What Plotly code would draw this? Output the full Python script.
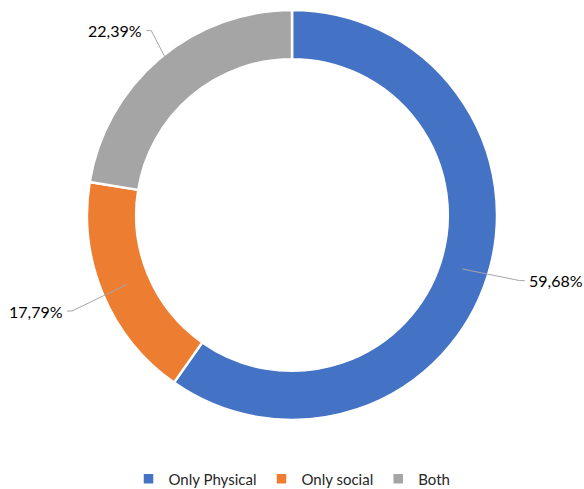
import math
import plotly.graph_objects as go

# Share of respondents by type of activity
categories = ["Only Physical", "Only social", "Both"]
shares = [59.68, 17.79, 22.39]
colors = ["#4472C4", "#ED7D31", "#A5A5A5"]

W, H = 584, 489
CX, CY = 292, 215          # ring centre in px
R_OUT = 203                # drawn outer radius
R_DOM = 205                # half-size of the pie domain (plotly trims a little)
HOLE = 0.76
R_MID = R_OUT * (1 + HOLE) / 2

# per-slice label placement (radius of the leader end, angular nudge in degrees)
label_radius = [237, 240, 232]
label_nudge = [1.5, 0.8, -3.0]


def fmt(v):
    return f"{v:.2f}".replace(".", ",") + "%"


fig = go.Figure(go.Pie(
    labels=categories,
    values=shares,
    hole=HOLE,
    sort=False,
    direction="clockwise",
    rotation=0,
    marker=dict(colors=colors, line=dict(color="white", width=2.5)),
    textinfo="none",
    hoverinfo="label+percent",
    domain=dict(x=[(CX - R_DOM) / W, (CX + R_DOM) / W],
                y=[1 - (CY + R_DOM) / H, 1 - (CY - R_DOM) / H]),
))

total = sum(shares)
cum = 0.0
shapes, annotations = [], []
for i, v in enumerate(shares):
    mid = (cum + v / 2) / total * 360.0
    cum += v
    a = math.radians(90 - mid)
    sx, sy = CX + R_MID * math.cos(a), CY - R_MID * math.sin(a)
    a2 = math.radians(90 - mid + label_nudge[i])
    ex, ey = CX + label_radius[i] * math.cos(a2), CY - label_radius[i] * math.sin(a2)
    side = 1 if math.cos(a2) >= 0 else -1
    hx = ex + side * 5
    path = f"M {sx/W},{1-sy/H} L {ex/W},{1-ey/H} L {hx/W},{1-ey/H}"
    shapes.append(dict(type="path", xref="paper", yref="paper", path=path,
                       line=dict(color="#A6A6A6", width=1)))
    annotations.append(dict(
        x=(hx + side * 2) / W, y=1 - ey / H, xref="paper", yref="paper",
        text=fmt(v), showarrow=False,
        xanchor="left" if side > 0 else "right", yanchor="middle",
        font=dict(family="Lato, sans-serif", size=16, color="#000000"),
    ))

fig.update_layout(
    width=W, height=H,
    margin=dict(l=0, r=0, t=0, b=0, autoexpand=False),
    paper_bgcolor="white", plot_bgcolor="white",
    shapes=shapes, annotations=annotations,
    showlegend=True,
    legend=dict(orientation="h", x=0.5, xanchor="center", y=1 - 479 / H, yanchor="middle",
                font=dict(family="Lato, sans-serif", size=15, color="#262626"),
                itemwidth=30, traceorder="normal"),
)

fig.write_html("out.html")
